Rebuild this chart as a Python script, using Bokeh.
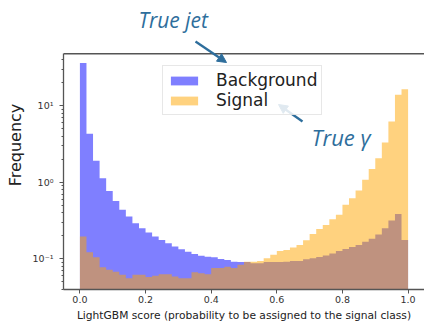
from bokeh.plotting import figure
from bokeh.models import (Range1d, FixedTicker, Legend, LegendItem, Label,
                          Arrow, NormalHead, ColumnDataSource, Span)
from bokeh.embed import file_html
from bokeh.resources import INLINE

# ---- data ----
bin_edges = [0.00, 0.02, 0.04, 0.06, 0.08, 0.10, 0.12, 0.14, 0.16, 0.18,
             0.20, 0.22, 0.24, 0.26, 0.28, 0.30, 0.32, 0.34, 0.36, 0.38,
             0.40, 0.42, 0.44, 0.46, 0.48, 0.50, 0.52, 0.54, 0.56, 0.58,
             0.60, 0.62, 0.64, 0.66, 0.68, 0.70, 0.72, 0.74, 0.76, 0.78,
             0.80, 0.82, 0.84, 0.86, 0.88, 0.90, 0.92, 0.94, 0.96, 0.98, 1.00]

background = [36.2, 4.30, 1.91, 1.13, 0.77, 0.57, 0.44, 0.357, 0.293, 0.252,
              0.221, 0.196, 0.177, 0.160, 0.145, 0.134, 0.124, 0.116, 0.110, 0.107,
              0.105, 0.100, 0.097, 0.092, 0.091, 0.091, 0.088, 0.088, 0.091, 0.091,
              0.091, 0.092, 0.094, 0.094, 0.099, 0.102, 0.106, 0.111, 0.118, 0.127,
              0.135, 0.143, 0.152, 0.167, 0.183, 0.208, 0.252, 0.317, 0.387, 0.177]

signal = [0.196, 0.122, 0.105, 0.078, 0.072, 0.068, 0.062, 0.056, 0.062, 0.062,
          0.058, 0.060, 0.063, 0.063, 0.059, 0.056, 0.056, 0.067, 0.065, 0.063,
          0.076, 0.076, 0.079, 0.076, 0.084, 0.092, 0.092, 0.094, 0.102, 0.113,
          0.127, 0.131, 0.141, 0.152, 0.175, 0.212, 0.245, 0.278, 0.330, 0.376,
          0.508, 0.622, 0.781, 1.08, 1.49, 2.07, 3.31, 6.23, 13.9, 16.5]

series_names = ["Background", "Signal"]
x_ticks = [0.0, 0.2, 0.4, 0.6, 0.8, 1.0]
x_tick_labels = ["0.0", "0.2", "0.4", "0.6", "0.8", "1.0"]
y_ticks = [0.1, 1, 10]
y_tick_labels = ["10\u207b\u00b9", "10\u2070", "10\u00b9"]
y_minor_ticks = [0.04, 0.05, 0.06, 0.07, 0.08, 0.09,
                 0.2, 0.3, 0.4, 0.5, 0.6, 0.7, 0.8, 0.9,
                 2, 3, 4, 5, 6, 7, 8, 9, 20, 30, 40]
x_title = "LightGBM score (probability to be assigned to the signal class)"
y_title = "Frequency"
note_jet = "True jet"
note_gamma = "True \u03b3"

# axes box (matplotlib-like); the canvas frame extends above it so the
# annotations over the box are not clipped
x_lo, x_hi = -0.05, 1.05
y_lo, y_box_top, y_canvas_top = 0.0398, 47.9, 237.7

p = figure(width=424, height=324, x_range=Range1d(x_lo, x_hi),
           y_range=Range1d(y_lo, y_canvas_top), y_axis_type="log",
           output_backend="svg", toolbar_location=None,
           min_border_left=63, min_border_right=0,
           min_border_top=0, min_border_bottom=34)
p.xgrid.grid_line_color = None
p.ygrid.grid_line_color = None
p.outline_line_color = None
p.background_fill_color = "white"
p.border_fill_color = "white"

src_b = ColumnDataSource(dict(x=bin_edges, y=background + background[-1:]))
src_s = ColumnDataSource(dict(x=bin_edges, y=signal + signal[-1:]))

r_b = p.varea_step(x="x", y1=0.001, y2="y", step_mode="after", source=src_b,
                   fill_color="blue", fill_alpha=0.5)
r_s = p.varea_step(x="x", y1=0.001, y2="y", step_mode="after", source=src_s,
                   fill_color="orange", fill_alpha=0.5)

spine = "#555555"
p.add_layout(Span(location=y_box_top, dimension="width",
                  line_color=spine, line_width=1.3))

# axes
for ax in (p.xaxis[0], p.yaxis[0]):
    ax.axis_line_color = spine
    ax.axis_line_width = 1.3
    ax.major_tick_line_color = spine
    ax.minor_tick_line_color = spine
    ax.major_tick_in = 0
    ax.major_tick_out = 4
    ax.minor_tick_in = 0
    ax.major_label_text_font = "DejaVu Sans"
    ax.major_label_text_font_size = "9.5px"
    ax.major_label_text_color = "#333333"
    ax.axis_label_text_font = "DejaVu Sans"
    ax.axis_label_text_font_style = "normal"
    ax.axis_label_text_color = "#222222"

p.xaxis[0].ticker = FixedTicker(ticks=x_ticks)
p.xaxis[0].major_label_overrides = dict(zip(x_ticks, x_tick_labels))
p.xaxis[0].minor_tick_line_color = None
p.xaxis[0].major_label_standoff = 2
p.xaxis[0].axis_label = x_title
p.xaxis[0].axis_label_text_font_size = "10.7px"
p.xaxis[0].axis_label_standoff = 3

p.yaxis[0].bounds = (y_lo, y_box_top)
p.yaxis[0].ticker = FixedTicker(ticks=y_ticks, minor_ticks=y_minor_ticks)
p.yaxis[0].major_label_overrides = dict(zip(y_ticks, y_tick_labels))
p.yaxis[0].minor_tick_out = 2
p.yaxis[0].major_label_standoff = 6
p.yaxis[0].axis_label = y_title
p.yaxis[0].axis_label_text_font_size = "16px"
p.yaxis[0].axis_label_standoff = 5

# legend
legend = Legend(items=[LegendItem(label=series_names[0], renderers=[r_b]),
                       LegendItem(label=series_names[1], renderers=[r_s])],
                location=(99, 174))
legend.label_text_font = "DejaVu Sans"
legend.label_text_font_size = "17px"
legend.label_text_color = "#222222"
legend.glyph_width = 34
legend.glyph_height = 11
legend.label_height = 20
legend.label_standoff = 15
legend.padding = 4
legend.spacing = 0
legend.margin = 0
legend.border_line_color = "#d0d0d0"
legend.border_line_width = 1
legend.background_fill_alpha = 0.85
p.add_layout(legend)

# annotations
c = "#2E6E9C"
p.add_layout(Label(x=75, y=270, x_units="screen", y_units="screen", text=note_jet,
                   text_font="Open Sans", text_font_style="italic",
                   text_font_size="21px", text_color=c, text_baseline="alphabetic"))
p.add_layout(Label(x=248, y=153, x_units="screen", y_units="screen", text=note_gamma,
                   text_font="Open Sans", text_font_style="italic",
                   text_font_size="22px", text_color=c, text_baseline="alphabetic"))
p.add_layout(Arrow(end=NormalHead(size=9, fill_color=c, line_color=c),
                   x_start=132, y_start=248, x_end=163, y_end=227,
                   start_units="screen", end_units="screen",
                   line_color=c, line_width=2.3))
p.add_layout(Arrow(end=NormalHead(size=9, fill_color=c, line_color=c),
                   x_start=239, y_start=168, x_end=215, y_end=185,
                   start_units="screen", end_units="screen",
                   line_color=c, line_width=2.3))

open("out.html", "w").write(file_html(p, INLINE))
